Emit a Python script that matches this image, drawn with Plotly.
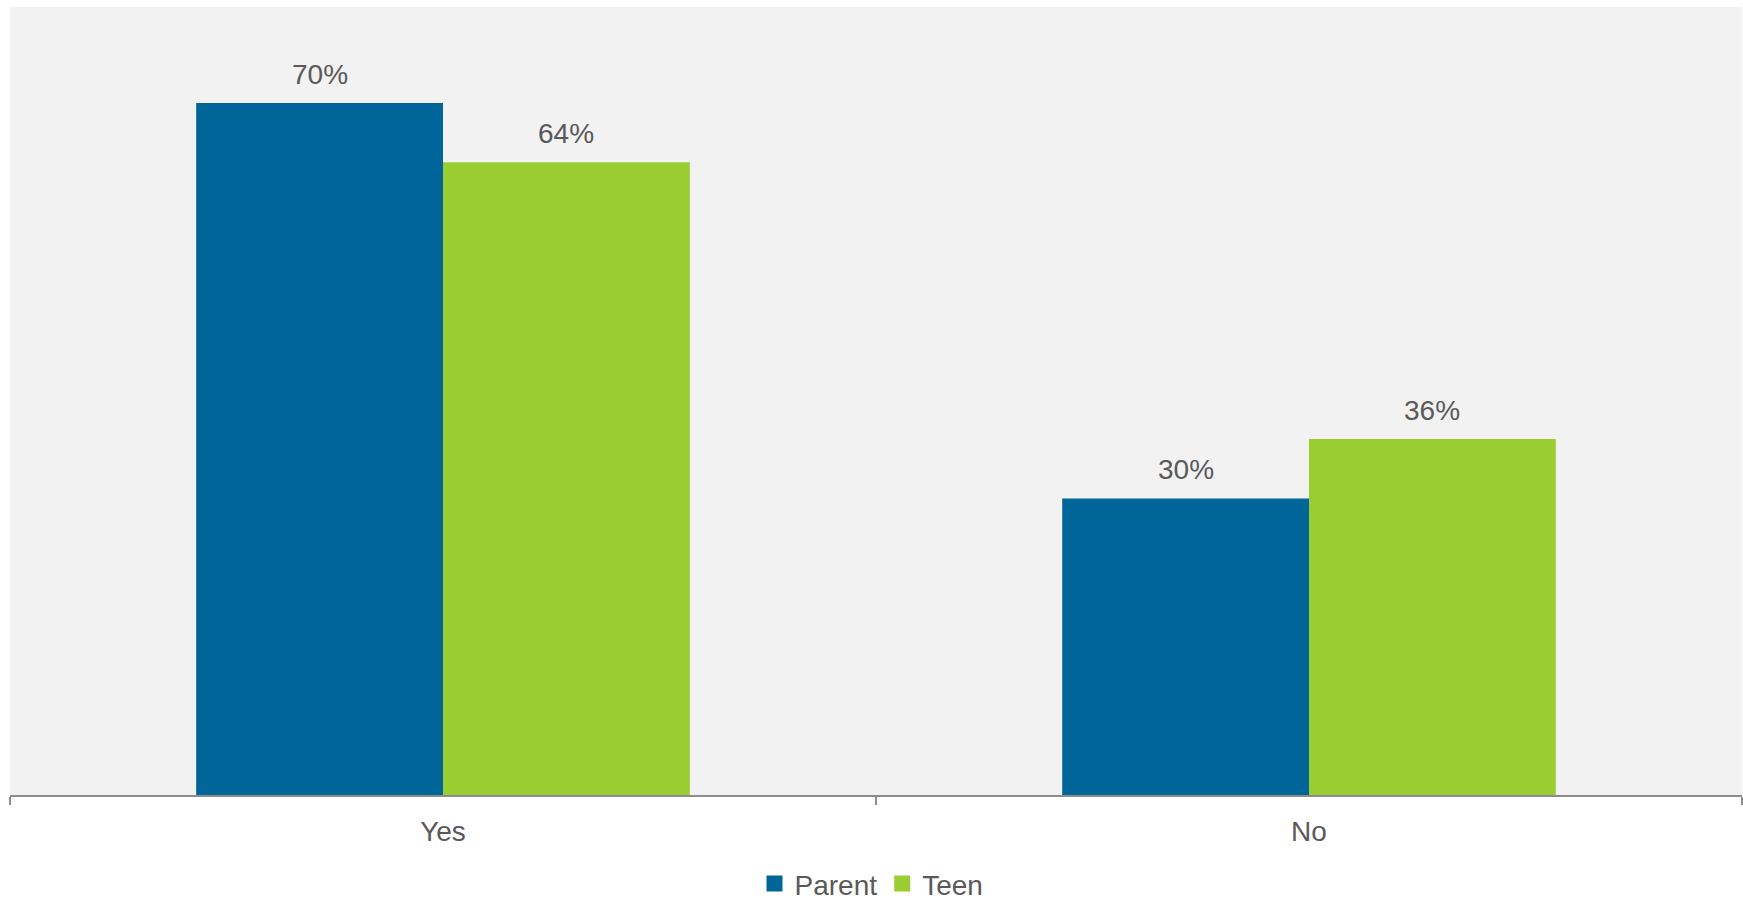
import plotly.graph_objects as go

categories = ["Yes", "No"]
parent_values = [70, 30]
teen_values = [64, 36]
series_names = ["Parent", "Teen"]

BLUE = "#006699"
GREEN = "#9ACD32"
TEXT = "#595959"
FONT = "Liberation Sans, Arial, sans-serif"

W, H = 1743, 901
ML, MR, MT, MB = 10, 1, 7, 106
BARGAP = 0.43

fig = go.Figure()
series = [(series_names[0], parent_values, BLUE), (series_names[1], teen_values, GREEN)]
for name, vals, col in series:
    fig.add_trace(go.Bar(
        x=categories, y=vals, name=name, marker=dict(color=col, line=dict(width=0)),
        showlegend=False, hoverinfo="skip",
    ))
    fig.add_trace(go.Scatter(
        x=[None], y=[None], mode="markers", name=name,
        marker=dict(symbol="square", size=16, color=col),
    ))

# value labels above each bar
cat_px = (W - ML - MR) / len(categories)
bar_px = cat_px * (1 - BARGAP) / len(series)
annotations = []
for i, (name, vals, col) in enumerate(series):
    offset = (i - (len(series) - 1) / 2) * bar_px
    for c, v in zip(categories, vals):
        annotations.append(dict(
            x=c, y=v, xref="x", yref="y", text=f"{v}%", showarrow=False,
            xshift=offset, yshift=11, yanchor="bottom", xanchor="center",
            font=dict(size=28, color=TEXT, family=FONT),
        ))

fig.update_layout(
    width=W, height=H,
    margin=dict(l=ML, r=MR, t=MT, b=MB, autoexpand=False),
    paper_bgcolor="white", plot_bgcolor="#F2F2F2",
    barmode="group", bargap=BARGAP, bargroupgap=0,
    font=dict(family=FONT, size=28, color=TEXT),
    legend=dict(orientation="h", x=0.5, xanchor="center", xref="container",
                y=0.019, yanchor="middle", yref="container",
                font=dict(size=28, color=TEXT, family=FONT), itemwidth=30,
                traceorder="normal", bgcolor="rgba(0,0,0,0)"),
    xaxis=dict(showline=True, linecolor="#8C8C8C", linewidth=2, ticks="outside",
               tickson="boundaries", ticklen=8, tickwidth=2, tickcolor="#8C8C8C",
               showgrid=False, tickfont=dict(size=28, color=TEXT, family=FONT),
               ticklabelstandoff=10, automargin=False),
    yaxis=dict(range=[0, 79.7], visible=False, showgrid=False, zeroline=False,
               automargin=False),
    annotations=annotations,
)

fig.write_html(
    "out.html",
    config={"displayModeBar": False},
    post_script="document.body.style.margin='0';document.body.style.overflow='hidden';"
                "document.documentElement.style.overflow='hidden';",
)
